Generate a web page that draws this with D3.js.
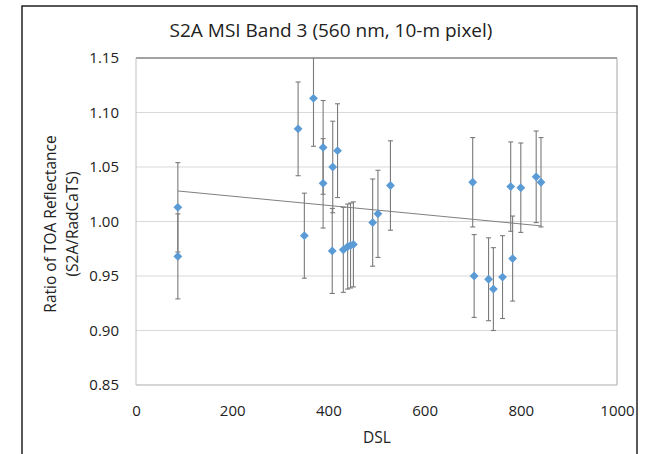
<!DOCTYPE html>
<html><head><meta charset="utf-8">
<script src="https://cdn.jsdelivr.net/npm/d3@7"></script>
<style>html,body{margin:0;padding:0;background:#fff;}svg{display:block;}</style>
</head><body>
<svg id="c" width="659" height="454"></svg>
<script>
const dsl =   [87,   87,    337,   369,   389,   389,   409,   419,   350,   408,   431,   440,   446,   452,   492,   503,   529,   700,   779,   800,   832,   842,   703,   733,   743,   762,   783];
const ratio = [1.013,0.968, 1.085, 1.113, 1.068, 1.035, 1.050, 1.065, 0.987, 0.973, 0.974, 0.977, 0.978, 0.979, 0.999, 1.007, 1.033, 1.036, 1.032, 1.031, 1.041, 1.036, 0.950, 0.947, 0.938, 0.949, 0.966];
const err =   [0.041,0.039, 0.043, 0.044, 0.043, 0.041, 0.042, 0.043, 0.039, 0.039, 0.039, 0.039, 0.039, 0.039, 0.040, 0.040, 0.041, 0.041, 0.041, 0.041, 0.042, 0.041, 0.038, 0.038, 0.038, 0.038, 0.039];
const trendX = [87, 842];
const trendY = [1.028, 0.996];
const xTicks = [0,200,400,600,800,1000];
const yTicks = [0.85,0.90,0.95,1.00,1.05,1.10,1.15];

const svg = d3.select("#c");
const font = "'Open Sans', 'Liberation Sans', sans-serif";
const L=136, R=617, T=58, B=385;
const x = d3.scaleLinear().domain([0,1000]).range([L,R]);
const y = d3.scaleLinear().domain([0.85,1.15]).range([B,T]);

// outer frame
svg.append("rect").attr("x",22).attr("y",6).attr("width",615).attr("height",460)
  .attr("fill","#fff").attr("stroke","#222").attr("stroke-width",1.5);

// gridlines
svg.append("g").selectAll("line").data(yTicks).join("line")
  .attr("x1",L).attr("x2",R).attr("y1",d=>y(d)).attr("y2",d=>y(d))
  .attr("stroke","#d9d9d9").attr("stroke-width",1);
// plot border
svg.append("line").attr("x1",L).attr("x2",R).attr("y1",T).attr("y2",T).attr("stroke","#595959");
svg.append("line").attr("x1",R).attr("x2",R).attr("y1",T).attr("y2",B).attr("stroke","#a6a6a6");
svg.append("line").attr("x1",L).attr("x2",L).attr("y1",T).attr("y2",B).attr("stroke","#bfbfbf");
svg.append("line").attr("x1",L).attr("x2",R).attr("y1",B).attr("y2",B).attr("stroke","#bfbfbf");

// axes
const yAx = svg.append("g").attr("transform",`translate(${L},0)`)
  .call(d3.axisLeft(y).tickValues(yTicks).tickFormat(d3.format(".2f")).tickSize(0).tickPadding(17));
const xAx = svg.append("g").attr("transform",`translate(0,${B})`)
  .call(d3.axisBottom(x).tickValues(xTicks).tickFormat(d3.format("d")).tickSize(0).tickPadding(20));
[yAx,xAx].forEach(g=>{g.select(".domain").remove();
  g.selectAll("text").attr("font-family",font).attr("font-size",15).attr("fill","#222");});

// clip
svg.append("clipPath").attr("id","pc").append("rect").attr("x",L).attr("y",T).attr("width",R-L).attr("height",B-T);
const pg = svg.append("g").attr("clip-path","url(#pc)");

// trend line
pg.append("path").datum(trendX.map((d,i)=>[d,trendY[i]]))
  .attr("d",d3.line().x(d=>x(d[0])).y(d=>y(d[1])))
  .attr("fill","none").attr("stroke","#7f7f7f").attr("stroke-width",1);

const pts = dsl.map((d,i)=>({x:d,y:ratio[i],e:err[i]}));
// error bars
const eb = pg.append("g").attr("stroke","#7a7a7a").attr("stroke-width",1.1);
eb.selectAll(".v").data(pts).join("line")
  .attr("x1",d=>x(d.x)).attr("x2",d=>x(d.x)).attr("y1",d=>y(d.y+d.e)).attr("y2",d=>y(d.y-d.e));
eb.selectAll(".t").data(pts).join("line")
  .attr("x1",d=>x(d.x)-2.5).attr("x2",d=>x(d.x)+2.5).attr("y1",d=>y(d.y+d.e)).attr("y2",d=>y(d.y+d.e));
eb.selectAll(".b").data(pts).join("line")
  .attr("x1",d=>x(d.x)-2.5).attr("x2",d=>x(d.x)+2.5).attr("y1",d=>y(d.y-d.e)).attr("y2",d=>y(d.y-d.e));

// markers
const sym = d3.symbol().type(d3.symbolDiamond2).size(50);
svg.append("g").selectAll("path").data(pts).join("path")
  .attr("d",sym).attr("transform",d=>`translate(${x(d.x)},${y(d.y)})`)
  .attr("fill","#5b9bd5");

// title & labels
svg.append("text").attr("x",331).attr("y",37).attr("text-anchor","middle")
  .attr("font-family",font).attr("font-size",19).attr("fill","#222")
  .text("S2A MSI Band 3 (560 nm, 10-m pixel)");
svg.append("text").attr("x",377).attr("y",443).attr("text-anchor","middle")
  .attr("font-family",font).attr("font-size",15.5).attr("fill","#222").text("DSL");
const yt = svg.append("text").attr("transform","translate(56,224) rotate(-90)").attr("text-anchor","middle")
  .attr("font-family",font).attr("font-size",15.5).attr("fill","#222");
yt.append("tspan").attr("x",0).attr("dy",0).text("Ratio of TOA Reflectance");
yt.append("tspan").attr("x",0).attr("dy",22).text("(S2A/RadCaTS)");
</script>
</body></html>
